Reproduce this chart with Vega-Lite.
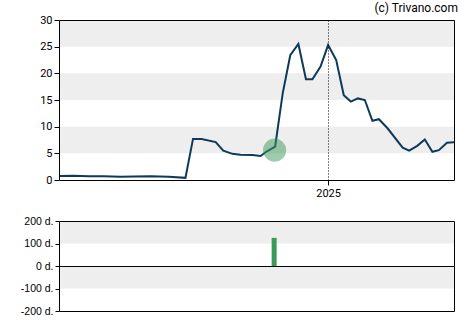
{
  "$schema": "https://vega.github.io/schema/vega-lite/v6.json",
  "padding": {"left": 20, "top": 2, "right": 5, "bottom": 5},
  "spacing": 18,
  "config": {
    "view": {"stroke": null},
    "font": "Roboto",
    "axis": {"labelColor": "black", "tickColor": "black", "domainColor": "black", "domainWidth": 1, "domain": true, "labelFontSize": 11, "labelFont": "Roboto", "tickSize": 5, "labelPadding": 2, "title": null, "labelOverlap": false, "grid": false, "zindex": 1}
  },
  "datasets": {
    "prices": [
      {"date": "2023-08-22", "v": 0.75},
      {"date": "2023-09-18", "v": 0.78},
      {"date": "2023-10-16", "v": 0.7},
      {"date": "2023-11-13", "v": 0.68},
      {"date": "2023-12-14", "v": 0.62},
      {"date": "2024-01-08", "v": 0.65},
      {"date": "2024-02-08", "v": 0.7},
      {"date": "2024-03-12", "v": 0.6},
      {"date": "2024-04-12", "v": 0.4},
      {"date": "2024-04-26", "v": 7.7},
      {"date": "2024-05-12", "v": 7.7},
      {"date": "2024-06-07", "v": 7.1},
      {"date": "2024-06-21", "v": 5.5},
      {"date": "2024-07-08", "v": 4.9},
      {"date": "2024-07-23", "v": 4.75},
      {"date": "2024-08-14", "v": 4.7},
      {"date": "2024-08-29", "v": 4.5},
      {"date": "2024-09-08", "v": 5.25},
      {"date": "2024-09-25", "v": 6.25},
      {"date": "2024-10-09", "v": 16.25},
      {"date": "2024-10-23", "v": 23.4},
      {"date": "2024-11-07", "v": 25.5},
      {"date": "2024-11-21", "v": 18.9},
      {"date": "2024-12-03", "v": 18.9},
      {"date": "2024-12-18", "v": 21.25},
      {"date": "2025-01-01", "v": 25.3},
      {"date": "2025-01-16", "v": 22.5},
      {"date": "2025-01-30", "v": 15.9},
      {"date": "2025-02-12", "v": 14.7},
      {"date": "2025-02-25", "v": 15.3},
      {"date": "2025-03-10", "v": 15.0},
      {"date": "2025-03-24", "v": 11.1},
      {"date": "2025-04-05", "v": 11.4},
      {"date": "2025-04-21", "v": 9.7},
      {"date": "2025-05-19", "v": 6.06},
      {"date": "2025-05-31", "v": 5.5},
      {"date": "2025-06-15", "v": 6.4},
      {"date": "2025-06-29", "v": 7.6},
      {"date": "2025-07-13", "v": 5.3},
      {"date": "2025-07-25", "v": 5.6},
      {"date": "2025-08-09", "v": 7.0},
      {"date": "2025-08-22", "v": 7.06}
    ],
    "signal": [{"date": "2024-09-24", "v": 5.6, "days": 125}],
    "bandsTop": [{"lo": 5, "hi": 10}, {"lo": 15, "hi": 20}, {"lo": 25, "hi": 30}],
    "bandsBottom": [{"lo": -100, "hi": 0}, {"lo": 100, "hi": 200}]
  },
  "vconcat": [
    {
      "width": 395,
      "height": 160,
      "title": {"text": "(c) Trivano.com", "anchor": "end", "fontSize": 12, "fontWeight": "normal", "font": "Roboto", "color": "black", "offset": -1},
      "resolve": {"axis": {"x": "independent", "y": "independent"}},
      "layer": [
        {
          "data": {"name": "bandsTop"},
          "mark": {"type": "rect", "color": "#eeeeee"},
          "encoding": {
            "y": {"field": "lo", "type": "quantitative", "scale": {"domain": [0, 30], "nice": false}, "axis": {"orient": "left", "values": [0, 5, 10, 15, 20, 25, 30], "zindex": 1}},
            "y2": {"field": "hi"}
          }
        },
        {
          "data": {"name": "prices"},
          "mark": {"type": "line", "color": "#0e3a5a", "strokeWidth": 2},
          "encoding": {
            "x": {"field": "date", "type": "temporal", "scale": {"domain": ["2023-08-22", "2025-08-22"]}, "axis": {"orient": "bottom", "values": ["2025-01-01"], "format": "%Y", "grid": true, "gridColor": "black", "gridDash": [1, 2], "gridOpacity": 1, "zindex": 1}},
            "y": {"field": "v", "type": "quantitative", "axis": {"orient": "right", "labels": false, "ticks": false, "domain": true, "zindex": 1}}
          }
        },
        {
          "data": {"name": "signal"},
          "mark": {"type": "circle", "size": 500, "color": "#3a9a5a", "opacity": 0.5, "stroke": "#3a9a5a", "strokeWidth": 1},
          "encoding": {
            "x": {"field": "date", "type": "temporal", "axis": {"orient": "top", "labels": false, "ticks": false, "domain": true, "zindex": 1}},
            "y": {"field": "v", "type": "quantitative", "axis": null}
          }
        }
      ]
    },
    {
      "width": 395,
      "height": 90,
      "resolve": {"axis": {"x": "independent", "y": "independent"}},
      "layer": [
        {
          "data": {"name": "bandsBottom"},
          "mark": {"type": "rect", "color": "#eeeeee"},
          "encoding": {
            "y": {"field": "lo", "type": "quantitative", "scale": {"domain": [-200, 200], "nice": false}, "axis": {"orient": "left", "values": [-200, -100, 0, 100, 200], "labelExpr": "datum.value + ' d.'", "labelFont": "Liberation Sans", "labelFontSize": 10.5, "tickSize": 4, "zindex": 1}},
            "y2": {"field": "hi"}
          }
        },
        {
          "data": {"name": "signal"},
          "mark": {"type": "bar", "color": "#3a9a5a", "width": 5},
          "encoding": {
            "x": {"field": "date", "type": "temporal", "scale": {"domain": ["2023-08-22", "2025-08-22"]}, "axis": {"orient": "bottom", "labels": false, "ticks": false, "domain": true, "zindex": 1}},
            "y": {"field": "days", "type": "quantitative", "axis": {"orient": "right", "labels": false, "ticks": false, "domain": true, "grid": true, "values": [0], "gridColor": "black", "gridOpacity": 1, "gridWidth": 1, "zindex": 1}}
          }
        },
        {
          "data": {"name": "signal"},
          "mark": {"type": "point", "opacity": 0},
          "encoding": {
            "x": {"field": "date", "type": "temporal", "axis": {"orient": "top", "labels": false, "ticks": false, "domain": true, "zindex": 1}},
            "y": {"field": "days", "type": "quantitative", "axis": null}
          }
        }
      ]
    }
  ]
}
